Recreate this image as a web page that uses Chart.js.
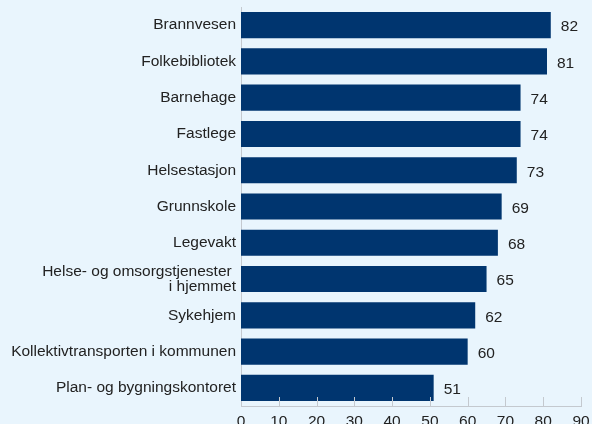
<!DOCTYPE html>
<html lang="no">
<head>
<meta charset="UTF-8">
<title>Tjenester</title>
<script src="https://cdn.jsdelivr.net/npm/chart.js@4.4.0/dist/chart.umd.min.js"></script>
<style>
*{box-sizing:border-box;margin:0;padding:0}
html,body{width:592px;height:424px;overflow:hidden;background:#e9f5fd}
.cw{position:relative;width:592px;height:432px}
</style>
</head>
<body>
<div class="cw"><canvas id="c"></canvas></div>
<script>
const labels = [
  "Brannvesen",
  "Folkebibliotek",
  "Barnehage",
  "Fastlege",
  "Helsestasjon",
  "Grunnskole",
  "Legevakt",
  ["Helse- og omsorgstjenester ", "i hjemmet"],
  "Sykehjem",
  "Kollektivtransporten i kommunen",
  "Plan- og bygningskontoret"
];
const values = [82, 81, 74, 74, 73, 69, 68, 65, 62, 60, 51];
const xTicks = [0, 10, 20, 30, 40, 50, 60, 70, 80, 90];

const textColor = "#222", lineColor = "#c4c9cf", barColor = "#00356f";
const font = { family: "'Liberation Sans', Arial, sans-serif", size: 15.5 };

// value labels right of bars + small inward tick marks on x axis
const extras = {
  id: "extras",
  afterDatasetsDraw(chart) {
    const ctx = chart.ctx, meta = chart.getDatasetMeta(0);
    ctx.save();
    ctx.fillStyle = textColor;
    ctx.font = font.size + "px " + font.family;
    ctx.textAlign = "left";
    ctx.textBaseline = "middle";
    meta.data.forEach((bar, i) => {
      ctx.fillText(values[i], bar.x + 10, bar.y + 2);
    });
    const xs = chart.scales.x, bottom = chart.chartArea.bottom;
    ctx.strokeStyle = lineColor;
    ctx.lineWidth = 1;
    xTicks.slice(1).forEach(v => {
      const px = Math.round(xs.getPixelForValue(v)) + 0.5;
      ctx.beginPath();
      ctx.moveTo(px, bottom);
      ctx.lineTo(px, bottom - 9);
      ctx.stroke();
    });
    ctx.restore();
  }
};

new Chart(document.getElementById("c"), {
  type: "bar",
  data: {
    labels: labels,
    datasets: [{
      data: values,
      backgroundColor: barColor,
      borderWidth: 0,
      barPercentage: 0.72,
      categoryPercentage: 1
    }]
  },
  options: {
    indexAxis: "y",
    responsive: true, maintainAspectRatio: false,
    animation: false,
    layout: { padding: { top: 7, right: 11, left: 0, bottom: 0 } },
    plugins: { legend: { display: false }, tooltip: { enabled: false } },
    scales: {
      x: {
        min: 0, max: 90,
        afterBuildTicks: s => { s.ticks = xTicks.map(v => ({ value: v })); },
        afterFit: s => { s.height = 26; s.paddingLeft = 0; s.paddingRight = 0; },
        grid: { display: false, drawTicks: false },
        border: { display: true, color: lineColor },
        ticks: { color: textColor, font: font, padding: 6, maxRotation: 0 }
      },
      y: {
        afterFit: s => { s.width = 241; s.paddingTop = 0; s.paddingBottom = 0; },
        grid: { display: false, drawTicks: false },
        border: { display: true, color: lineColor },
        ticks: { color: textColor, font: { ...font, lineHeight: 1.0 }, padding: 5, autoSkip: false }
      }
    }
  },
  plugins: [extras]
});
</script>
</body>
</html>
